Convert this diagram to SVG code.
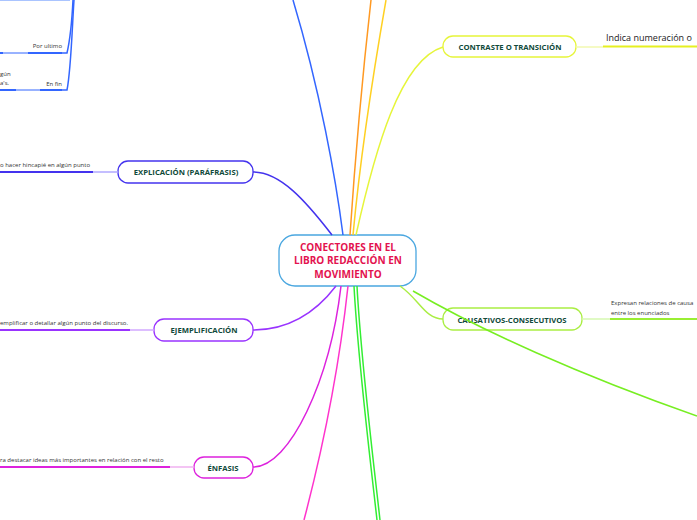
<svg xmlns="http://www.w3.org/2000/svg" width="697" height="520" viewBox="0 0 697 520">
<style>
.n{fill:#fff;stroke-width:1.3}
.lbl{font-family:"Open Sans","Noto Sans",sans-serif;font-weight:bold;font-size:7.7px;fill:#0f4a3a;text-anchor:middle}
.ctr{font-family:"Open Sans","Noto Sans",sans-serif;font-weight:bold;font-size:10px;fill:#e3124f;text-anchor:middle}
.sm{font-family:"Open Sans","Noto Sans",sans-serif;font-size:6px;fill:#333}
.c{fill:none;stroke-width:1.5}
</style>
<rect width="697" height="520" fill="#fff"/>
<g id="center">
  <rect class="n" x="279" y="235" width="137" height="51" rx="16" stroke="#4aa7e0"/>
  <text class="ctr" x="348" y="251">CONECTORES EN EL</text>
  <text class="ctr" x="348" y="264">LIBRO REDACCIÓN EN</text>
  <text class="ctr" x="348" y="278">MOVIMIENTO</text>
</g>
<g id="contraste">
  <rect class="n" x="443" y="36" width="133" height="21" rx="10" stroke="#e6f53a"/>
  <text class="lbl" x="510" y="49.5">CONTRASTE O TRANSICIÓN</text>
  <text x="606" y="41" font-family="Open Sans, Noto Sans, sans-serif" font-size="9" fill="#222">Indica numeración o </text>
</g>
<g id="causativos">
  <rect class="n" x="443" y="308" width="139" height="22" rx="10" stroke="#aaee44"/>
  <text class="lbl" x="512" y="322.5">CAUSATIVOS-CONSECUTIVOS</text>
  <text class="sm" x="611" y="305">Expresan  relaciones de causa</text>
  <text class="sm" x="611" y="315">entre los enunciados</text>
</g>
<g id="explicacion">
  <rect class="n" x="118" y="161" width="135" height="22" rx="10" stroke="#4433ee"/>
  <text class="lbl" x="186" y="175">EXPLICACIÓN (PARÁFRASIS)</text>
  <text class="sm" x="0" y="167">o hacer hincapié en algún punto</text>
</g>
<g id="ejemplificacion">
  <rect class="n" x="154" y="319" width="99" height="22" rx="10" stroke="#9933ff"/>
  <text class="lbl" x="204" y="333">EJEMPLIFICACIÓN</text>
  <text class="sm" x="0" y="325">emplificar o detallar algún punto del discurso.</text>
</g>
<g id="enfasis">
  <rect class="n" x="194" y="457" width="59" height="21" rx="10" stroke="#dd22dd"/>
  <text class="lbl" x="223" y="470.5">ÉNFASIS</text>
  <text class="sm" x="0" y="462">ra destacar ideas más importantes en relación con el resto</text>
</g>
<g id="por-ultimo">
  <text class="sm" x="62" y="48" text-anchor="end">Por ultimo</text>
</g>
<g id="en-fin">
  <text class="sm" x="62" y="86" text-anchor="end">En fin</text>
  <text class="sm" x="0" y="76">gún</text>
  <text class="sm" x="0" y="85">a's.</text>
</g>
<g id="connectors">
  <path class="c" d="M343,235 C336,180 320,90 293,0" stroke="#3366ff"/>
  <path class="c" d="M332,235 C305,200 280,172 253,172" stroke="#4433ee"/>
  <path class="c" d="M350,235 C355,160 362,80 371,0" stroke="#ff9922" stroke-width="2"/>
  <path class="c" d="M353,235 C360,160 372,80 386,0" stroke="#ffd022" stroke-width="2"/>
  <path class="c" d="M356,235 C375,150 400,60 443,47" stroke="#e6f53a"/>
  <path class="c" d="M400,286 C420,300 425,319 443,319" stroke="#aaee44"/>
  <path class="c" d="M413,291 C480,330 580,375 697,416" stroke="#77ee22" stroke-width="2"/>
  <path class="c" d="M354,286 C358,360 368,440 377,520" stroke="#33ee33" stroke-width="2"/>
  <path class="c" d="M357,286 C361,360 371,440 380,520" stroke="#33ee33" stroke-width="2"/>
  <path class="c" d="M348,286 C340,360 325,440 304,520" stroke="#ff33cc"/>
  <path class="c" d="M341,286 C330,380 290,467 253,467" stroke="#dd22dd"/>
  <path class="c" d="M336,286 C310,320 280,330 253,330" stroke="#9933ff"/>
  <path class="c" d="M62,53 L67,53 C70,40 72,20 73,0" stroke="#3366ff" stroke-width="1"/>
  <path class="c" d="M62,90 L67,90 C71,70 72,30 74,0" stroke="#3366ff" stroke-width="1"/>
  <line x1="0" y1="0.5" x2="70" y2="0.5" stroke="#aac4ff" stroke-width="1"/>
  <line x1="0" y1="53" x2="3" y2="53" stroke="#3366ff" stroke-width="2"/>
  <line x1="3" y1="53" x2="28" y2="53" stroke="#3366ff" stroke-width="1"/>
  <line x1="28" y1="53" x2="62" y2="53" stroke="#3366ff" stroke-width="2"/>
  <line x1="0" y1="90" x2="16" y2="90" stroke="#3366ff" stroke-width="2"/>
  <line x1="16" y1="90" x2="40" y2="90" stroke="#3366ff" stroke-width="1"/>
  <line x1="40" y1="90" x2="62" y2="90" stroke="#3366ff" stroke-width="2"/>
  <line x1="0" y1="172" x2="93" y2="172" stroke="#4433ee" stroke-width="2"/>
  <line x1="93" y1="172" x2="118" y2="172" stroke="#b0a8ff" stroke-width="1.5"/>
  <line x1="0" y1="330" x2="130" y2="330" stroke="#9933ff" stroke-width="2"/>
  <line x1="130" y1="330" x2="154" y2="330" stroke="#d2a8ff" stroke-width="1.5"/>
  <line x1="0" y1="467" x2="170" y2="467" stroke="#dd22dd" stroke-width="2"/>
  <line x1="170" y1="467" x2="194" y2="467" stroke="#f0b0f0" stroke-width="1.5"/>
  <line x1="576" y1="47" x2="603" y2="47" stroke="#f2f8b0" stroke-width="1.5"/>
  <line x1="603" y1="46.5" x2="697" y2="46.5" stroke="#e6f020" stroke-width="2.2"/>
  <line x1="582" y1="319" x2="610" y2="319" stroke="#d6f8b0" stroke-width="1.5"/>
  <line x1="610" y1="319" x2="697" y2="319" stroke="#99ee33" stroke-width="2.2"/>
</g>
</svg>
